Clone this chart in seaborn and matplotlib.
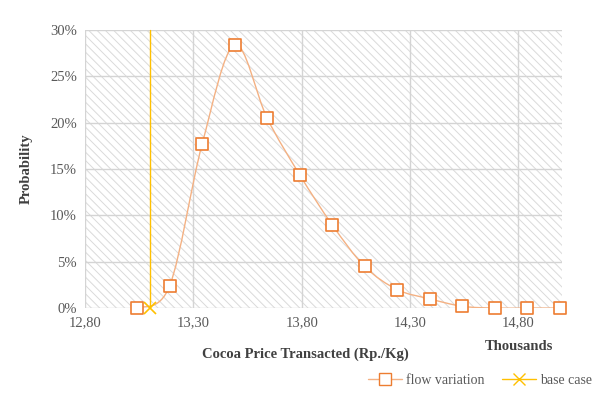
import numpy as np
import matplotlib
matplotlib.use("Agg")
import matplotlib.pyplot as plt
import seaborn as sns
import pandas as pd
from matplotlib.path import Path
from matplotlib.patches import PathPatch
from matplotlib.ticker import FuncFormatter, MultipleLocator, FixedLocator

# data (price in thousands Rp./Kg, probability)
price = [13.04, 13.19, 13.34, 13.49, 13.64, 13.79, 13.94, 14.09,
         14.24, 14.39, 14.54, 14.69, 14.84, 14.99]
prob = [0.000, 0.024, 0.177, 0.284, 0.205, 0.144, 0.090, 0.045,
        0.020, 0.010, 0.002, 0.000, 0.000, 0.000]
base_price = [13.10, 13.10]
base_prob = [0.0, 0.30]
x_ticks = [12.80, 13.30, 13.80, 14.30, 14.80]

ORANGE_LINE = "#F4B183"
ORANGE_EDGE = "#ED7D31"
YELLOW = "#FFC000"

sns.set_style("white")
plt.rcParams['font.family'] = ['Liberation Serif', 'DejaVu Serif']
plt.rcParams['hatch.color'] = '#dadada'
plt.rcParams['hatch.linewidth'] = 0.7

fig = plt.figure(figsize=(6.08, 4.07), dpi=100)
ax = fig.add_axes([0.14, 0.243, 0.784, 0.683])

# hatched plot background
ax.patch.set_facecolor('white')
ax.patch.set_hatch('\\\\\\\\')
ax.patch.set_edgecolor('#dadada')
ax.patch.set_linewidth(0)

ax.grid(True, color='#d4d4d4', linewidth=1.0)
ax.set_axisbelow(True)

# smooth curve (Catmull-Rom -> cubic bezier), like Excel smoothed lines
pts = np.column_stack([price, prob])
verts = [pts[0]]
codes = [Path.MOVETO]
for i in range(len(pts) - 1):
    p0 = pts[i - 1] if i > 0 else pts[i]
    p1, p2 = pts[i], pts[i + 1]
    p3 = pts[i + 2] if i + 2 < len(pts) else pts[i + 1]
    c1 = p1 + (p2 - p0) / 6.0
    c2 = p2 - (p3 - p1) / 6.0
    verts += [c1, c2, p2]
    codes += [Path.CURVE4] * 3
ax.add_patch(PathPatch(Path(verts, codes), facecolor='none',
                       edgecolor=ORANGE_LINE, linewidth=1.0, zorder=3))

df = pd.DataFrame({'price': price, 'prob': prob})
sns.scatterplot(data=df, x='price', y='prob', marker='s', s=70,
                facecolor='white', edgecolor=ORANGE_EDGE, linewidth=1.2,
                ax=ax, zorder=4, clip_on=False)

ax.plot(base_price, base_prob, color=YELLOW, linewidth=1.0,
        marker='x', markevery=[0], markersize=9, markeredgewidth=1.2,
        zorder=5, clip_on=False)

ax.set_xlim(12.80, 15.00)
ax.set_ylim(0, 0.30)
ax.xaxis.set_major_locator(FixedLocator(x_ticks))
ax.yaxis.set_major_locator(MultipleLocator(0.05))
ax.xaxis.set_major_formatter(FuncFormatter(lambda v, p: f"{v:.2f}".replace('.', ',')))
ax.yaxis.set_major_formatter(FuncFormatter(lambda v, p: f"{v*100:.0f}%"))
ax.tick_params(axis='both', length=0, labelsize=10.5, colors='#595959', pad=6)
for s in ax.spines.values():
    s.set_visible(False)

ax.set_xlabel("")
ax.set_ylabel("Probability", fontsize=10.5, fontweight='bold', color='#404040', labelpad=12)
fig.text(305 / 608, 1 - 354 / 407, "Cocoa Price Transacted (Rp./Kg)", ha='center', va='center',
         fontsize=10.5, fontweight='bold', color='#404040')
fig.text(519 / 608, 1 - 347 / 407, "Thousands", ha='center', va='center',
         fontsize=10.5, fontweight='bold', color='#404040')

# legend
h1 = plt.Line2D([], [], color=ORANGE_LINE, marker='s', markerfacecolor='white',
                markeredgecolor=ORANGE_EDGE, markersize=8, linewidth=1.0)
h2 = plt.Line2D([], [], color=YELLOW, marker='x', markersize=8, linewidth=1.0)
fig.legend([h1, h2], ["flow variation", "base case"], loc='center',
           bbox_to_anchor=(480 / 608, 1 - 380 / 407), ncol=2, frameon=False,
           fontsize=10, handlelength=2.5, columnspacing=1.2, handletextpad=0.3,
           labelcolor='#595959')

fig.savefig("out.png", dpi=100)
plt.close(fig)
